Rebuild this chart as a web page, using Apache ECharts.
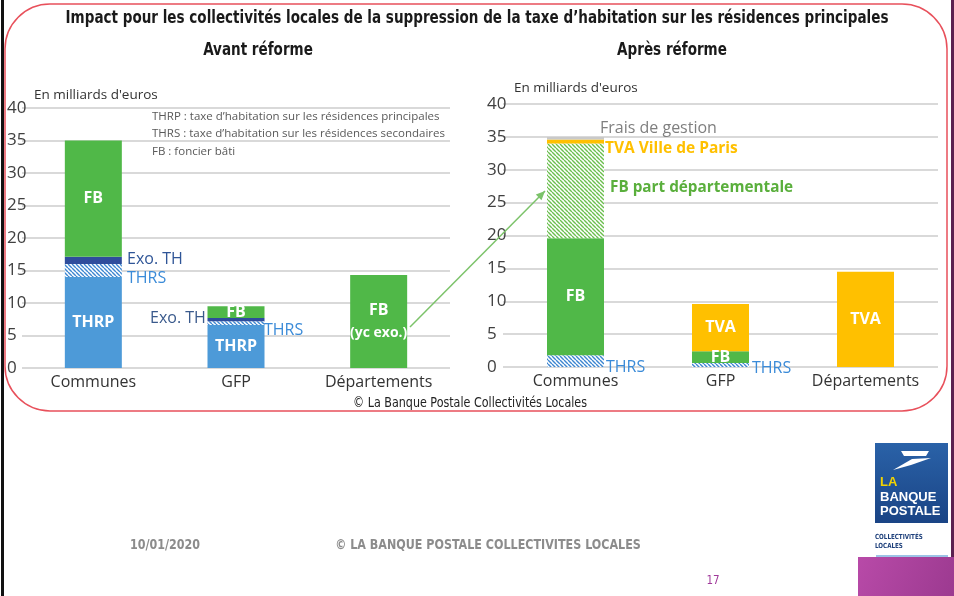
<!DOCTYPE html>
<html>
<head>
<meta charset="utf-8">
<script src="https://cdn.jsdelivr.net/npm/echarts@6/dist/echarts.min.js"></script>
<style>
  html, body { margin: 0; padding: 0; background: #fff; }
  #chart { width: 954px; height: 596px; }
</style>
</head>
<body>
<div id="chart"></div>
<script>
  // categories shared by both panels
  var categories = ['Communes', 'GFP', 'Départements'];

  // Avant réforme (Md€)
  var avThrp = [14.0, 6.6, 0];
  var avThrs = [2.0, 0.6, 0];
  var avExo = [1.1, 0.5, 0];
  var avFb = [17.9, 1.8, 14.3];
  var avThrpLabels = ['THRP', 'THRP', ''];
  var avFbLabels = ['FB', 'FB', 'FB\n(yc exo.)'];

  // Après réforme (Md€)
  var apThrs = [1.8, 0.6, 0];
  var apFb = [17.8, 1.8, 0];
  var apFbDep = [14.4, 0, 0];
  var apTva = [0, 7.2, 14.5];
  var apTvaParis = [0.6, 0, 0];
  var apFrais = [0.4, 0, 0];
  var apFbLabels = ['FB', 'FB', ''];
  var apTvaLabels = ['', 'TVA', 'TVA'];

  var BLUE = '#4d9ad8', DARKBLUE = '#2e4d9c', GREEN = '#50b848', YELLOW = '#ffc000';
  var FONT = '"Open Sans", sans-serif';
  var NARROW = '"DejaVu Sans Condensed", sans-serif';

  function hatch(fg, bg) {
    var c = document.createElement('canvas');
    c.width = 4; c.height = 4;
    var g = c.getContext('2d');
    g.fillStyle = bg;
    g.fillRect(0, 0, 4, 4);
    g.strokeStyle = fg;
    g.lineWidth = 1.4;
    g.beginPath();
    for (var k = -4; k <= 4; k += 4) { g.moveTo(k, 0); g.lineTo(k + 4, 4); }
    g.stroke();
    return { image: c, repeat: 'repeat' };
  }

  function inside(labels) {
    return {
      show: true, position: 'inside', color: '#fff', fontFamily: FONT,
      fontWeight: 'bold', fontSize: 16, lineHeight: 22, overflow: 'none',
      rich: { s: { color: '#fff', fontFamily: FONT, fontWeight: 'bold', fontSize: 14, lineHeight: 22 } },
      formatter: function (p) {
        // second line of a label is set a bit smaller so it fits the bar
        var parts = labels[p.dataIndex].split('\n');
        return parts.map(function (t, i) { return i ? '{s|' + t + '}' : t; }).join('\n');
      }
    };
  }

  function bar(name, data, color, stack, idx, label) {
    return {
      name: name, type: 'bar', stack: stack, data: data, barWidth: 57,
      xAxisIndex: idx, yAxisIndex: idx, itemStyle: { color: color },
      label: label || { show: false }, silent: true
    };
  }

  function txt(x, y, s, size, color, weight, align, font) {
    var narrow = font === NARROW;
    return {
      type: 'text', x: x, y: y, z: 100, silent: true, scaleX: narrow ? 0.885 : 1,
      style: {
        text: s, fill: color, font: (weight || 'normal') + ' ' + size + 'px ' + (font || FONT),
        textAlign: align || 'left', textVerticalAlign: 'middle'
      }
    };
  }

  function shape(type, shp, style) {
    return { type: type, z: 100, silent: true, shape: shp, style: style };
  }

  // arrow from Départements (avant) to FB part départementale (après)
  var a0 = [410, 327], a1 = [545, 191];
  var dx = a1[0] - a0[0], dy = a1[1] - a0[1], len = Math.sqrt(dx * dx + dy * dy);
  var ux = dx / len, uy = dy / len;
  var head = [a1, [a1[0] - 9 * ux - 4 * uy, a1[1] - 9 * uy + 4 * ux], [a1[0] - 9 * ux + 4 * uy, a1[1] - 9 * uy - 4 * ux]];

  var chartDom = document.getElementById('chart');
  var myChart = echarts.init(chartDom);
  var option;

  var yAxisBase = function (idx, margin) {
    return {
      type: 'value', gridIndex: idx, min: 0, max: 40, interval: 5,
      axisLine: { show: false }, axisTick: { show: false },
      splitLine: { lineStyle: { color: '#d9d9d9', width: 2 } },
      axisLabel: { fontFamily: FONT, fontSize: 17, color: '#404040', align: 'left', margin: margin }
    };
  };
  var xAxisBase = function (idx) {
    return {
      type: 'category', gridIndex: idx, data: categories,
      axisLine: { show: false }, axisTick: { show: false },
      axisLabel: { fontFamily: FONT, fontSize: 16, color: '#333', margin: 6 }
    };
  };

  option = {
    animation: false,
    backgroundColor: '#fff',
    grid: [
      { left: 22, right: 504, top: 108, bottom: 228 },
      { left: 503, right: 16, top: 104, bottom: 229 }
    ],
    xAxis: [xAxisBase(0), xAxisBase(1)],
    yAxis: [yAxisBase(0, 15), yAxisBase(1, 16)],
    series: [
      bar('THRP', avThrp, BLUE, 'avant', 0, inside(avThrpLabels)),
      bar('THRS', avThrs, hatch('#3d86d0', '#ffffff'), 'avant', 0),
      bar('Exo. TH', avExo, DARKBLUE, 'avant', 0),
      bar('FB', avFb, GREEN, 'avant', 0, inside(avFbLabels)),
      bar('THRS', apThrs, hatch('#3d86d0', '#ffffff'), 'apres', 1),
      bar('FB', apFb, GREEN, 'apres', 1, inside(apFbLabels)),
      bar('FB part départementale', apFbDep, hatch('#6cbf4f', '#ffffff'), 'apres', 1),
      bar('TVA', apTva, YELLOW, 'apres', 1, inside(apTvaLabels)),
      bar('TVA Ville de Paris', apTvaParis, YELLOW, 'apres', 1),
      bar('Frais de gestion', apFrais, '#c9c9c9', 'apres', 1)
    ],
    graphic: [
      // slide frame
      shape('rect', { x: 1, y: 0, width: 3, height: 596 }, { fill: '#111' }),
      shape('rect', { x: 951, y: 0, width: 3, height: 557 }, { fill: '#5b2150' }),
      shape('rect', { x: 5, y: 4, width: 942, height: 407, r: 45 }, { fill: 'none', stroke: '#e8505b', lineWidth: 1.5 }),
      // titles
      txt(477, 19, 'Impact pour les collectivités locales de la suppression de la taxe d\u2019habitation sur les résidences principales', 17, '#1a1a1a', 'bold', 'center', NARROW),
      txt(258, 51, 'Avant réforme', 17, '#1a1a1a', 'bold', 'center', NARROW),
      txt(672, 51, 'Après réforme', 17, '#1a1a1a', 'bold', 'center', NARROW),
      txt(34, 95, 'En milliards d\'euros', 13.5, '#333'),
      txt(514, 88, 'En milliards d\'euros', 13.5, '#333'),
      // glossary
      txt(152, 117, 'THRP : taxe d\u2019habitation sur les résidences principales', 11.5, '#595959'),
      txt(152, 134, 'THRS : taxe d\u2019habitation sur les résidences secondaires', 11.5, '#595959'),
      txt(152, 152, 'FB : foncier bâti', 11.5, '#595959'),
      // avant annotations
      txt(127, 259, 'Exo. TH', 16, '#2f5597'),
      txt(127, 278, 'THRS', 16, '#3b8bd8'),
      txt(150, 318, 'Exo. TH', 16, '#3a5a8c'),
      txt(264, 330, 'THRS', 16, '#3b8bd8'),
      // après annotations
      txt(600, 128, 'Frais de gestion', 16, '#7f7f7f'),
      txt(605, 149, 'TVA Ville de Paris', 15.5, YELLOW, 'bold'),
      txt(610, 188, 'FB part départementale', 15.3, '#5aaf3c', 'bold'),
      txt(606, 367, 'THRS', 16, '#3b8bd8'),
      txt(752, 368, 'THRS', 16, '#3b8bd8'),
      // arrow
      shape('line', { x1: a0[0], y1: a0[1], x2: a1[0], y2: a1[1] }, { stroke: '#7cc36a', lineWidth: 1.5 }),
      shape('polygon', { points: head }, { fill: '#7cc36a' }),
      txt(470, 403, '© La Banque Postale Collectivités Locales', 14, '#222', 'normal', 'center', NARROW),
      // footer
      txt(165, 545, '10/01/2020', 14, '#8c8c8c', 'bold', 'center', NARROW),
      txt(488, 545, '© LA BANQUE POSTALE COLLECTIVITES LOCALES', 14, '#8c8c8c', 'bold', 'center', NARROW),
      txt(713, 581, '17', 13, '#a0399a', 'normal', 'center', NARROW),
      // logo
      shape('rect', { x: 875, y: 443, width: 73, height: 80 },
        { fill: new echarts.graphic.LinearGradient(0, 0, 0, 1, [{ offset: 0, color: '#2a62a8' }, { offset: 1, color: '#1a4485' }]) }),
      shape('polygon', { points: [[901, 451], [929, 451], [926, 456], [904, 456]] }, { fill: '#fff' }),
      shape('polygon', { points: [[893, 470], [912, 459], [931, 458], [911, 465]] }, { fill: '#fff' }),
      txt(880, 482, 'LA', 13, '#f2d300', 'bold', 'left', '"Liberation Sans", sans-serif'),
      txt(880, 497, 'BANQUE', 13, '#fff', 'bold', 'left', '"Liberation Sans", sans-serif'),
      txt(880, 511, 'POSTALE', 13, '#fff', 'bold', 'left', '"Liberation Sans", sans-serif'),
      txt(875, 537, 'COLLECTIVITÉS', 7, '#1d3f7a', 'bold', 'left', NARROW),
      txt(875, 546, 'LOCALES', 7, '#1d3f7a', 'bold', 'left', NARROW),
      shape('rect', { x: 876, y: 555, width: 72, height: 2 }, { fill: '#9dc3e6' }),
      shape('rect', { x: 858, y: 557, width: 96, height: 39 },
        { fill: new echarts.graphic.LinearGradient(0, 0, 1, 1, [{ offset: 0, color: '#b84aa8' }, { offset: 1, color: '#9c3a90' }]) })
    ]
  };

  option && myChart.setOption(option);
</script>
</body>
</html>
